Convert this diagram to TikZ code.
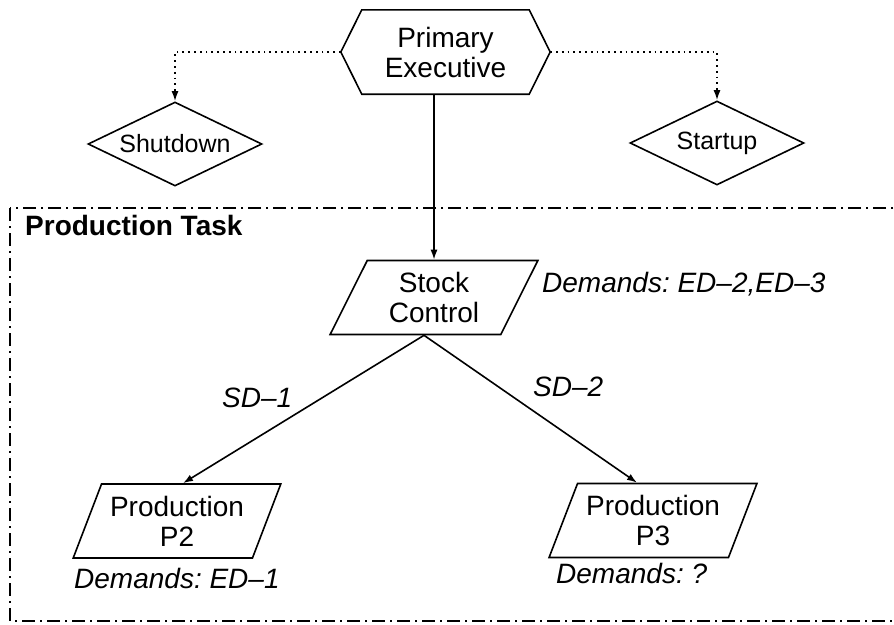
\documentclass[tikz,border=0pt]{standalone}
\usepackage{fontspec}
\setmainfont{Liberation Sans}
\usetikzlibrary{shapes.geometric,arrows.meta,calc}
\frenchspacing
\begin{document}
\begin{tikzpicture}[x=1pt,y=-1pt,
  every node/.style={font=\fontsize{28}{30}\selectfont, align=center},
  ln/.style={line width=1.6pt},
  arr/.style={ln,-{Latex[length=10pt,width=7pt]}},
  dotarr/.style={ln, dash pattern=on 1.8pt off 4pt, -{Latex[length=10pt,width=7pt]}},
  para/.style={trapezium, draw, ln, trapezium left angle=64, trapezium right angle=116,
    trapezium stretches=true, minimum width=208pt, minimum height=74pt, inner sep=1pt},
  dia/.style={diamond, draw, ln, aspect=2, minimum width=174pt, minimum height=84pt,
    inner sep=0pt, font=\fontsize{25}{27}\selectfont},
  lab/.style={font=\fontsize{28}{30}\selectfont\itshape, anchor=base west, inner sep=0pt},
  ttl/.style={font=\fontsize{28}{30}\selectfont\bfseries, anchor=base west, inner sep=0pt},
  taskbox/.style={ln, dash pattern=on 13pt off 5pt on 2pt off 5pt}
]
\useasboundingbox (0,0) rectangle (894,624);
\begin{scope}
  \clip (0,0) rectangle (894,624);
  \draw[taskbox] (10,208) rectangle (910,621);
\end{scope}

% Primary executive (hexagon)
\node (pe) at (445.5,52) [minimum width=167pt, minimum height=84pt, inner sep=0pt] {Primary\\Executive};
\draw[ln] (pe.north west) -- (pe.north east) -- ([xshift=21pt]pe.east) coordinate (per)
  -- (pe.south east) -- (pe.south west) -- ([xshift=-21pt]pe.west) coordinate (pel) -- cycle;

% diamonds
\node[dia] (sd) at (175,144) {Shutdown};
\node[dia] (su) at (717,143) {Startup};
\draw[dotarr] (pel) -| (sd.north);
\draw[dotarr] (per) -| (su.north);

% parallelograms
\node[para] (st) at (434,297.5) {Stock\\Control};
\node[para] (p2) at (177,521) {Production\\P2};
\node[para] (p3) at (653,520.5) {Production\\P3};

\draw[arr] (pe.south -| st.north) -- (st.north);
\coordinate (sb) at ($(st.south)+(-10pt,0)$);
\draw[arr] (sb) -- ([xshift=6pt]p2.north);
\draw[arr] (sb) -- ([xshift=-16pt]p3.north);

% labels
\node[ttl] (pt) at (25,235) {Production Task};
\node[lab] (d23) at (542,292) {Demands: ED–2,ED–3};
\node[lab] (sd1) at (222,407) {SD–1};
\node[lab] (sd2) at (533,396) {SD–2};
\node[lab] (d1) at (74,588) {Demands: ED–1};
\node[lab] (dq) at (556,583) {Demands: ?};
\end{tikzpicture}
\end{document}
